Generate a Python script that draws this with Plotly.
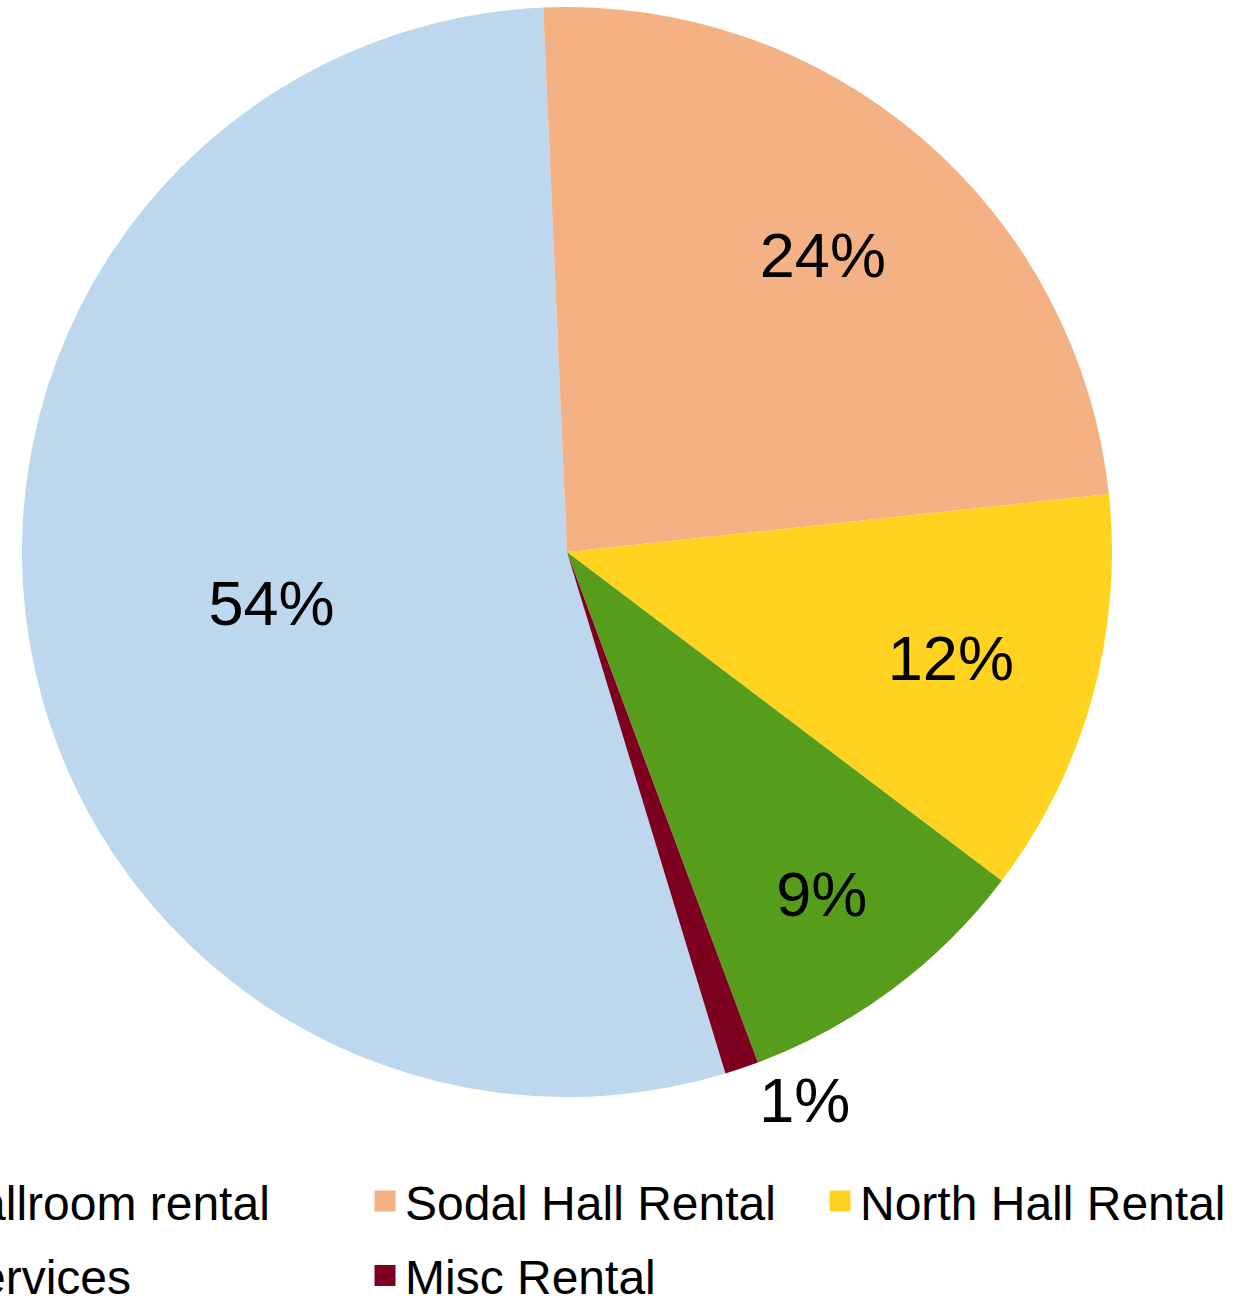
import plotly.graph_objects as go

# ---- data ----
labels = ["Ballroom rental", "Sodal Hall Rental", "North Hall Rental", "Services", "Misc Rental"]
values = [54, 24, 12, 9, 1]
colors = ["#BDD7EE", "#F4B183", "#FFD320", "#579D1C", "#7E0021"]
legend_ids = ["legend", "legend2", "legend3", "legend", "legend2"]

W, H = 1246, 1296
FONT = "Arial, Liberation Sans, sans-serif"
PCT = "%{percent:.0%}"

dom = dict(x=[22 / W, 1112 / W], y=[1 - 1097 / H, 1 - 7 / H])
common = dict(labels=labels, values=values, sort=False, direction="clockwise",
              rotation=163.1, insidetextorientation="horizontal", domain=dom,
              showlegend=False,
              textfont=dict(family=FONT, size=63, color="black"))
clear = ["rgba(0,0,0,0)"] * len(labels)

fig = go.Figure()

# main pie: slices + the outside label
fig.add_trace(go.Pie(
    marker=dict(colors=colors, line=dict(width=0)),
    texttemplate=["", "", "", "", PCT],
    textposition=["none", "none", "none", "none", "outside"],
    outsidetextfont=dict(family=FONT, size=63, color="black"),
    hoverinfo="label+percent",
    **common,
))

# transparent overlays that carry the inside labels at Excel-like radii
fig.add_trace(go.Pie(
    hole=0.1,
    marker=dict(colors=clear, line=dict(width=0)),
    texttemplate=[PCT, "", "", "", ""],
    textposition=["inside", "none", "none", "none", "none"],
    hoverinfo="skip",
    **common,
))
fig.add_trace(go.Pie(
    hole=0.44,
    marker=dict(colors=clear, line=dict(width=0)),
    texttemplate=["", PCT, PCT, PCT, ""],
    textposition=["none", "inside", "inside", "inside", "none"],
    hoverinfo="skip",
    **common,
))

# legend entries (one per category, arranged in three columns)
for lab, col, lid in zip(labels, colors, legend_ids):
    fig.add_trace(go.Scatter(
        x=[None], y=[None],
        mode="markers",
        name=lab,
        legend=lid,
        legendgroup=lab,
        marker=dict(symbol="square", size=16, color=col, line=dict(color=col, width=5)),
        hoverinfo="skip",
    ))

leg_common = dict(
    orientation="v",
    xanchor="left",
    yanchor="top",
    y=1 - 1163.3 / H,
    font=dict(family=FONT, size=48, color="black"),
    tracegroupgap=9,
    traceorder="grouped",
    bgcolor="rgba(0,0,0,0)",
    borderwidth=0,
)

fig.update_layout(
    width=W,
    height=H,
    margin=dict(l=0, r=0, t=0, b=0, autoexpand=False),
    paper_bgcolor="white",
    plot_bgcolor="white",
    font=dict(family=FONT, color="black"),
    xaxis=dict(visible=False),
    yaxis=dict(visible=False),
    legend=dict(x=-93 / W, **leg_common),
    legend2=dict(x=365 / W, **leg_common),
    legend3=dict(x=820 / W, **leg_common),
)

fig.write_html("out.html", config={"displayModeBar": False},
               post_script="document.body.style.margin='0';")
